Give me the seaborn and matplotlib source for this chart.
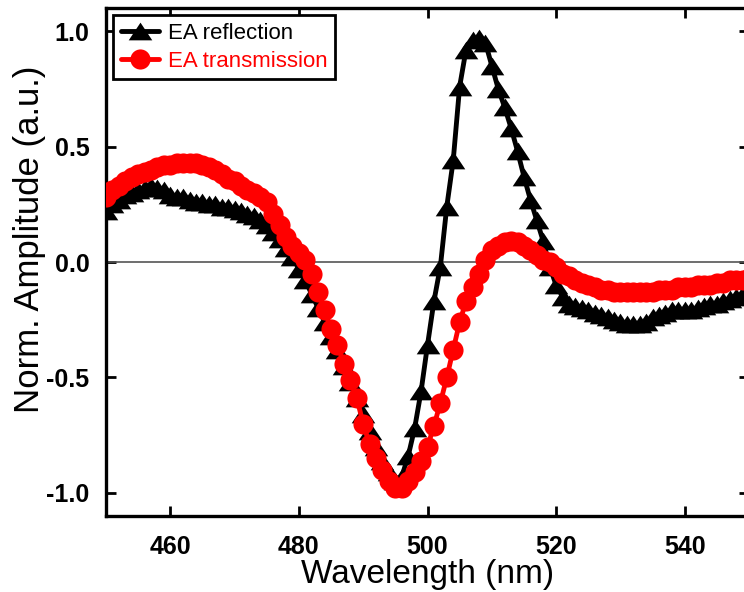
import numpy as np
import pandas as pd
import matplotlib
matplotlib.use("Agg")
import matplotlib.pyplot as plt
import seaborn as sns

# Wavelength grid (nm)
wavelength = list(range(450, 551))

# Normalised electro-absorption spectra
ea_reflection = [
    0.22, 0.25, 0.27, 0.29, 0.30, 0.31, 0.32, 0.33, 0.32, 0.31,
    0.29, 0.28, 0.28, 0.27, 0.26, 0.26, 0.25, 0.25, 0.24, 0.24,
    0.23, 0.22, 0.21, 0.20, 0.18, 0.16, 0.13, 0.10, 0.06, 0.02,
    -0.03, -0.08, -0.14, -0.20, -0.26, -0.32, -0.38, -0.45, -0.52, -0.59,
    -0.66, -0.73, -0.80, -0.86, -0.91, -0.95, -0.93, -0.84, -0.72, -0.56,
    -0.36, -0.17, -0.02, 0.24, 0.44, 0.76, 0.92, 0.96, 0.97, 0.95,
    0.85, 0.75, 0.67, 0.58, 0.48, 0.37, 0.27, 0.18, 0.09, -0.02,
    -0.10, -0.15, -0.18, -0.19, -0.20, -0.21, -0.22, -0.23, -0.24, -0.25,
    -0.26, -0.27, -0.27, -0.27, -0.26, -0.24, -0.23, -0.22, -0.21, -0.21,
    -0.21, -0.21, -0.20, -0.19, -0.18, -0.18, -0.17, -0.16, -0.15, -0.14,
    -0.13,
]

ea_transmission = [
    0.28, 0.31, 0.33, 0.35, 0.37, 0.38, 0.39, 0.40, 0.41, 0.42,
    0.42, 0.43, 0.43, 0.43, 0.43, 0.42, 0.41, 0.40, 0.38, 0.36,
    0.35, 0.33, 0.31, 0.30, 0.28, 0.26, 0.21, 0.16, 0.11, 0.07,
    0.04, 0.01, -0.05, -0.13, -0.21, -0.29, -0.36, -0.44, -0.51, -0.59,
    -0.70, -0.79, -0.85, -0.90, -0.95, -0.98, -0.98, -0.95, -0.91, -0.86,
    -0.80, -0.71, -0.61, -0.50, -0.38, -0.26, -0.17, -0.11, -0.05, 0.01,
    0.05, 0.07, 0.085, 0.09, 0.085, 0.07, 0.05, 0.03, 0.01, 0.00,
    -0.02, -0.05, -0.06, -0.08, -0.09, -0.10, -0.11, -0.12, -0.12, -0.13,
    -0.13, -0.13, -0.13, -0.13, -0.13, -0.13, -0.12, -0.12, -0.12, -0.11,
    -0.11, -0.11, -0.10, -0.10, -0.10, -0.09, -0.09, -0.08, -0.08, -0.08,
    -0.07,
]

x_ticks = [460, 480, 500, 520, 540]
y_ticks = [-1.0, -0.5, 0.0, 0.5, 1.0]

sns.set_theme(style="white")
plt.rcParams["font.family"] = ["Liberation Sans", "DejaVu Sans"]
plt.rcParams["axes.unicode_minus"] = False
plt.rcParams["text.color"] = "black"
plt.rcParams["axes.labelcolor"] = "black"
plt.rcParams["xtick.color"] = "black"
plt.rcParams["ytick.color"] = "black"

fig = plt.figure(figsize=(7.44, 5.92), dpi=100)
ax = fig.add_axes([106 / 744, 76 / 592, 643 / 744, 508 / 592])

df_r = pd.DataFrame({"wavelength": wavelength, "amp": ea_reflection})
df_t = pd.DataFrame({"wavelength": wavelength, "amp": ea_transmission})

ax.axhline(0.0, color="#555555", lw=1.2, zorder=1)

tri = [(0.0, 0.75), (-1.0, -0.75), (1.0, -0.75)]
sns.lineplot(data=df_r, x="wavelength", y="amp", ax=ax, color="black",
             lw=3.5, marker=tri, markersize=17, markeredgewidth=0,
             markerfacecolor="black", label="EA reflection", zorder=3)
sns.lineplot(data=df_t, x="wavelength", y="amp", ax=ax, color="red",
             lw=3.5, marker="o", markersize=14.5, markeredgewidth=0,
             markerfacecolor="red", label="EA transmission", zorder=4)

ax.set_xlim(450, 550)
ax.set_ylim(-1.1, 1.1)
ax.set_xticks(x_ticks)
ax.set_yticks(y_ticks)
ax.set_xticklabels([str(v) for v in x_ticks])
ax.set_yticklabels([f"{v:.1f}" for v in y_ticks])

for s in ax.spines.values():
    s.set_visible(True)
    s.set_color("black")
    s.set_linewidth(2.4)

ax.tick_params(axis="both", which="major", direction="in", length=7, width=2,
               color="black", labelcolor="black", top=True, right=True,
               bottom=True, left=True, labelsize=18)
ax.tick_params(axis="x", pad=14)
ax.tick_params(axis="y", pad=12)
for lab in ax.get_xticklabels() + ax.get_yticklabels():
    lab.set_fontweight("bold")

ax.set_xlabel("Wavelength (nm)", fontsize=24, labelpad=0, color="black")
ax.set_ylabel("Norm. Amplitude (a.u.)", fontsize=25, color="black")
ax.yaxis.set_label_coords(-0.094, 0.545)

leg = ax.legend(loc="upper left", bbox_to_anchor=(0.011, 0.986),
                borderaxespad=0, frameon=True, fancybox=False,
                edgecolor="black", fontsize=16, handlelength=1.7,
                handletextpad=0.4, labelspacing=0.3, borderpad=0.35)
leg.get_frame().set_linewidth(2)
leg.get_frame().set_alpha(1)
for txt, col in zip(leg.get_texts(), ["black", "red"]):
    txt.set_color(col)

fig.savefig("out.png", dpi=100)
